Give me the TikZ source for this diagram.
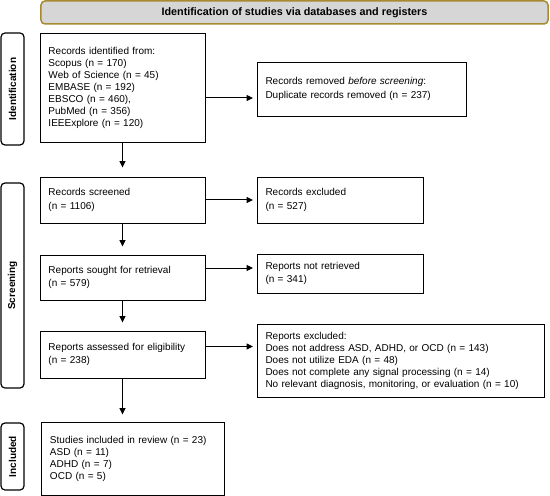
\documentclass[tikz,border=0pt]{standalone}
\usepackage{fontspec}
\setmainfont{Liberation Sans}
\usetikzlibrary{arrows.meta}
\definecolor{bannerfill}{RGB}{214,214,214}
\definecolor{bannerdraw}{RGB}{168,138,48}
\begin{document}
\begin{tikzpicture}[x=1bp,y=-1bp,
  box/.style={draw, line width=0.9bp, align=left, inner xsep=8.5bp, inner ysep=0pt,
    font=\fontsize{10bp}{12bp}\selectfont},
  two/.style={font=\fontsize{10bp}{13.5bp}\selectfont},
  side/.style={draw, line width=1.2bp, rounded corners=4bp, minimum height=23bp,
    inner sep=0pt, rotate=90, font=\bfseries\fontsize{10bp}{12bp}\selectfont},
  arr/.style={line width=1bp, -{Triangle[length=6.5bp,width=6bp]}},
]
\useasboundingbox (0,0) rectangle (550,496);

% banner
\node[draw=bannerdraw, fill=bannerfill, line width=1.5bp, rounded corners=4bp,
  minimum width=507bp, minimum height=23bp, inner sep=0pt,
  font=\bfseries\fontsize{10.8bp}{13bp}\selectfont] (banner) at (294.5,12.5)
  {Identification of studies via databases and registers};

% side labels
\node[side, minimum width=112bp] (sid) at (12.5,89) {Identification};
\node[side, minimum width=205bp] (sscr) at (12.5,285.5) {Screening};
\node[side, minimum width=67bp] (sinc) at (12.5,456.5) {Included};

% left column
\node[box, minimum width=165bp, minimum height=109bp, text width=148bp] (id) at (122.5,87.5)
  {Records identified from:\\Scopus (n = 170)\\Web of Science (n = 45)\\EMBASE (n = 192)\\EBSCO (n = 460),\\PubMed (n = 356)\\IEEExplore (n = 120)};
\node[box, two, minimum width=165bp, minimum height=46bp, text width=148bp] (screened) at (122.5,200)
  {Records screened\\(n = 1106)};
\node[box, two, minimum width=165bp, minimum height=45bp, text width=148bp] (sought) at (122.5,277.5)
  {Reports sought for retrieval\\(n = 579)};
\node[box, two, minimum width=165bp, minimum height=47bp, text width=148bp] (assessed) at (122.5,354.5)
  {Reports assessed for eligibility\\(n = 238)};
\node[box, minimum width=182.5bp, minimum height=73bp, text width=165.5bp] (included) at (132.75,458.5)
  {Studies included in review (n = 23)\\ASD (n = 11)\\ADHD (n = 7)\\OCD (n = 5)};

% right column
\node[box, two, minimum width=209bp, minimum height=54bp, text width=192bp] (removed) at (361.5,89)
  {Records removed \textit{before screening}:\\Duplicate records removed (n = 237)};
\node[box, two, minimum width=166bp, minimum height=46bp, text width=149bp] (excluded) at (340,200)
  {Records excluded\\(n = 527)};
\node[box, two, minimum width=166bp, minimum height=39bp, text width=149bp] (notretr) at (340,273.5)
  {Reports not retrieved\\(n = 341)};
\node[box, minimum width=287bp, minimum height=73bp, text width=270bp] (repexcl) at (400.5,360.5)
  {Reports excluded:\\Does not address ASD, ADHD, or OCD (n = 143)\\Does not utilize EDA (n = 48)\\Does not complete any signal processing (n = 14)\\No relevant diagnosis, monitoring, or evaluation (n = 10)};

% connectors
\coordinate (r1) at (0,98);
\coordinate (r3) at (0,268);
\coordinate (r4) at (0,346.5);
\draw[arr, shorten >=3.5bp] (id.east |- r1) -- (removed.west |- r1);
\draw[arr, shorten >=3.5bp] (screened.east) -- (excluded.west);
\draw[arr, shorten >=3.5bp] (sought.east |- r3) -- (notretr.west |- r3);
\draw[arr, shorten >=3.5bp] (assessed.east |- r4) -- (repexcl.west |- r4);
\draw[arr, shorten >=9bp] (id.south) -- (screened.north);
\draw[arr, shorten >=8bp] (screened.south) -- (sought.north);
\draw[arr, shorten >=8bp] (sought.south) -- (assessed.north);
\draw[arr, shorten >=7bp] (assessed.south) -- (assessed.south |- included.north);
\end{tikzpicture}
\end{document}
